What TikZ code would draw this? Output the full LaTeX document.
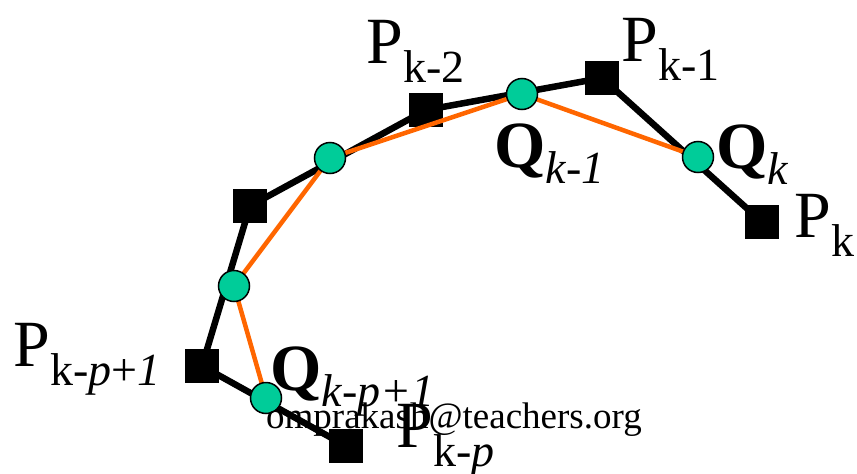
\documentclass[tikz,border=0pt]{standalone}
\usepackage{fontspec}
\setmainfont{Liberation Serif}
\usetikzlibrary{positioning}

\definecolor{qgreen}{RGB}{0,204,153}
\definecolor{qorange}{RGB}{255,102,0}

\begin{document}
\begin{tikzpicture}[
    x=1pt, y=-1pt,
    psquare/.style={rectangle, fill=black, minimum size=34pt, inner sep=0pt},
    qcircle/.style={circle, draw=black, line width=1.5pt, fill=qgreen, minimum size=31pt, inner sep=0pt},
    ctrlline/.style={line width=6.5pt, line join=round},
    refline/.style={line width=4.5pt, draw=qorange},
    pletter/.style={anchor=base west, inner sep=0pt, font=\fontsize{66}{70}\selectfont},
    qletter/.style={pletter, font=\fontsize{66}{70}\selectfont\bfseries},
    psub/.style={anchor=base west, inner sep=0pt, font=\fontsize{46}{50}\selectfont},
    qsub/.style={psub, font=\fontsize{46}{50}\selectfont\itshape},
    wmark/.style={anchor=base west, inner sep=0pt, font=\fontsize{37}{40}\selectfont}
]
\useasboundingbox (0,0) rectangle (857,474);

% Control points
\node[psquare] (pkp)  at (346,446) {};
\node[psquare] (pkp1) at (202,366) {};
\node[psquare] (pmid) at (250,206) {};
\node[psquare] (pk2)  at (426,110) {};
\node[psquare] (pk1)  at (602,78)  {};
\node[psquare] (pk)   at (762,222) {};

% Control polygon
\draw[ctrlline] (pkp.center) -- (pkp1.center) -- (pmid.center) -- (pk2.center) -- (pk1.center) -- (pk.center);
\foreach \p in {pkp, pkp1, pmid, pk2, pk1, pk}
    \node[psquare] at (\p) {};

% New points
\coordinate (qkp1) at (266,398);
\coordinate (qa)   at (234,286);
\coordinate (qb)   at (330,158);
\coordinate (qk1)  at (522,94);
\coordinate (qk)   at (698,157);
\draw[refline] (qkp1) -- (qa) -- (qb) -- (qk1) -- (qk);
\foreach \q in {qkp1, qa, qb, qk1, qk}
    \node[qcircle] at (\q) {};

% Labels: letter, then its subscript dropped below the baseline
\node[pletter] (lpk2)  at (366,63)  {P};
\node[psub] (lpk2s) at ([yshift=-19pt]lpk2.base east) {k-2};
\node[pletter] (lpk1)  at (621,61)  {P};
\node[psub] (lpk1s) at ([yshift=-19pt]lpk1.base east) {k-1};
\node[pletter] (lpk)   at (794,237) {P};
\node[psub] (lpks) at ([yshift=-19pt]lpk.base east) {k};
\node[pletter] (lpkp1) at (13,366)  {P};
\node[psub] (lpkp1s) at ([yshift=-19pt]lpkp1.base east) {k-\textit{p}+\textit{1}};
\node[pletter] (lpkp)  at (396,447) {P};
\node[psub] (lpkps) at ([yshift=-19pt]lpkp.base east) {k-\textit{p}};

\node[qletter] (lqk1)  at (494,167) {Q};
\node[qsub] (lqk1s) at ([yshift=-16pt]lqk1.base east) {k-1};
\node[qletter] (lqk)   at (716,168) {Q};
\node[qsub] (lqks) at ([yshift=-16pt]lqk.base east) {k};
\node[qletter] (lqkp1) at (270,390) {Q};
\node[qsub] (lqkp1s) at ([yshift=-16pt]lqkp1.base east) {k-p+1};

\node[wmark] (mail) at (266,428) {omprakash@teachers.org};

\end{tikzpicture}
\end{document}
